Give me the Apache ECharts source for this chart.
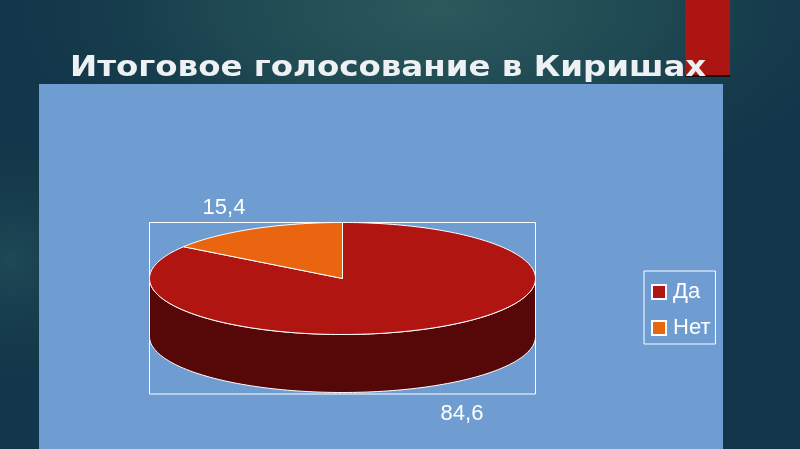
<!DOCTYPE html>
<html><head><meta charset="utf-8">
<style>html,body{margin:0;padding:0;background:#123848}#c{width:800px;height:449px}</style>
<script src="https://cdn.jsdelivr.net/npm/echarts@6/dist/echarts.min.js"></script>
</head><body><div id="c"></div>
<script>
const categories = ['Да', 'Нет'];
const values = [84.6, 15.4];
const valueLabels = ['84,6', '15,4'];
const topColors = ['#b01511', '#ea6510'];
const wallColors = ['#560808', '#7a3a08'];
const titleText = 'Итоговое голосование в Киришах';

const C = {cx: 342.5, cy: 278.5, rx: 193, ry: 56, depth: 58};
const total = values.reduce((a, b) => a + b, 0);
const pt = (deg, dy) => {
  const r = deg * Math.PI / 180;
  return [C.cx + C.rx * Math.sin(r), C.cy - C.ry * Math.cos(r) + (dy || 0)];
};
const arc = (a, b, dy) => {
  const pts = [], n = Math.max(2, Math.ceil(Math.abs(b - a) / 1.5));
  for (let i = 0; i <= n; i++) pts.push(pt(a + (b - a) * i / n, dy));
  return pts;
};
const labelPos = [[462, 414], [224, 208]];

function renderSlice(idx) {
  return function () {
    const before = values.slice(0, idx).reduce((a, b) => a + b, 0);
    const start = before / total * 360, end = (before + values[idx]) / total * 360;
    const children = [];
    const wa = Math.max(start, 90), wb = Math.min(end, 270);
    if (wb > wa) {
      const top = arc(wa, wb, 0), bot = arc(wb, wa, C.depth);
      children.push({type: 'polygon', shape: {points: top.concat(bot)},
        style: {fill: wallColors[idx], stroke: '#fff', lineWidth: 1}});
    }
    children.push({type: 'polygon', shape: {points: [[C.cx, C.cy]].concat(arc(start, end, 0))},
      style: {fill: topColors[idx], stroke: '#fff', lineWidth: 1}});
    children.push({type: 'text', style: {x: labelPos[idx][0], y: labelPos[idx][1], text: valueLabels[idx],
      fill: '#fff', font: '22px "Liberation Sans"', textAlign: 'center', textVerticalAlign: 'middle'}});
    return {type: 'group', children};
  };
}

const chart = echarts.init(document.getElementById('c'), null, {renderer: 'canvas'});
chart.setOption({
  animation: false,
  legend: {
    data: categories.map(name => ({name, icon: 'rect'})),
    orient: 'vertical', left: 644, top: 271,
    padding: [10, 5, 5, 7], itemGap: 14, itemWidth: 14, itemHeight: 14,
    borderColor: '#fff', borderWidth: 1,
    textStyle: {color: '#fff', fontSize: 22, fontFamily: 'Liberation Sans', padding: [0, 0, 0, 2]},
    selectedMode: false
  },
  graphic: [
    {type: 'rect', z: -10, shape: {x: 0, y: 0, width: 800, height: 449}, style: {fill: '#12374a'}},
    {type: 'circle', z: -9, shape: {cx: 0, cy: 0, r: 420}, position: [440, 10], scaleX: 1.0, scaleY: 0.45,
      style: {fill: {type: 'radial', x: .5, y: .5, r: .5, colorStops: [
        {offset: 0, color: 'rgba(58,108,102,.65)'}, {offset: .5, color: 'rgba(45,92,92,.5)'}, {offset: 1, color: 'rgba(30,70,80,0)'}]}}},
    {type: 'circle', z: -9, shape: {cx: 0, cy: 0, r: 120}, position: [10, 260],
      style: {fill: {type: 'radial', x: .5, y: .5, r: .5, colorStops: [
        {offset: 0, color: 'rgba(50,100,105,.4)'}, {offset: 1, color: 'rgba(30,70,80,0)'}]}}},
    {type: 'rect', z: -8, shape: {x: 685, y: 75, width: 45, height: 2}, style: {fill: '#1a1010'}},
    {type: 'rect', z: -8, shape: {x: 685, y: 0, width: 45, height: 75}, style: {fill: '#ad1512'}},
    {type: 'rect', z: -7, shape: {x: 39, y: 84, width: 684, height: 365}, style: {fill: '#709dd1'}},
    {type: 'rect', z: -6, shape: {x: 149.5, y: 222.5, width: 386, height: 171.5},
      style: {fill: 'none', stroke: '#fff', lineWidth: 1}},
    {type: 'text', z: 5, x: 70, y: 54, scaleX: 1.12, scaleY: 1,
      style: {text: titleText, fill: '#eef1f3', font: 'bold 29px "DejaVu Sans"', textAlign: 'left', textVerticalAlign: 'top'}}
  ],
  series: categories.map((name, i) => ({
    type: 'custom', name, coordinateSystem: 'none', data: [values[i]],
    itemStyle: {color: topColors[i], borderColor: '#fff', borderWidth: 1},
    renderItem: renderSlice(i)
  }))
});
</script></body></html>
